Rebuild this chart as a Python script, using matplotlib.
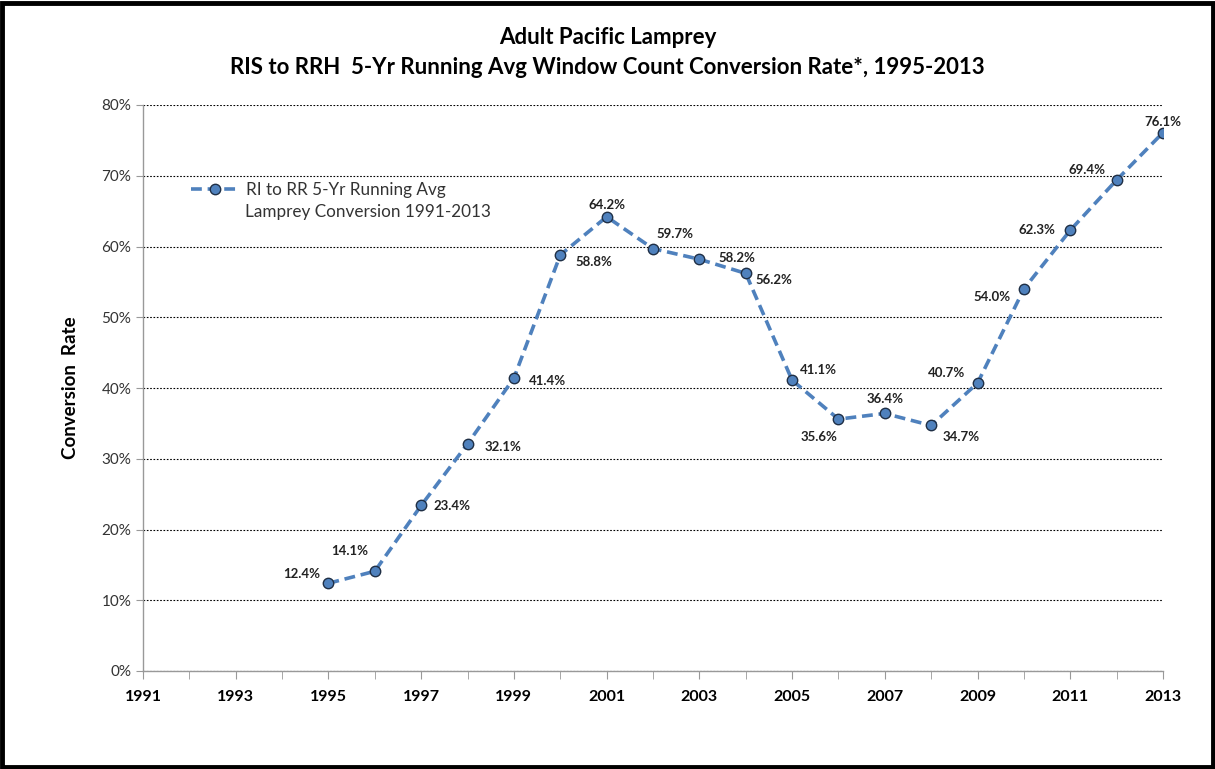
import matplotlib
matplotlib.use('Agg')
import matplotlib.pyplot as plt
from matplotlib.ticker import MultipleLocator, FixedLocator, FuncFormatter
from matplotlib.patches import Rectangle

plt.rcParams['font.family'] = ['Lato', 'DejaVu Sans']

# data
anos = [1995, 1996, 1997, 1998, 1999, 2000, 2001, 2002, 2003, 2004,
        2005, 2006, 2007, 2008, 2009, 2010, 2011, 2012, 2013]
taxa = [12.4, 14.1, 23.4, 32.1, 41.4, 58.8, 64.2, 59.7, 58.2, 56.2,
        41.1, 35.6, 36.4, 34.7, 40.7, 54.0, 62.3, 69.4, 76.1]
rotulos = [f'{v:.1f}%' for v in taxa]
anos_eixo = list(range(1991, 2014, 2))
legenda = ['RI to RR 5-Yr Running Avg', 'Lamprey Conversion 1991-2013']
# posicao dos rotulos em pixels (dx, dy)
desloc = [(-27, 9), (-25, 20), (31, -1), (35, -3), (34, -3), (34, -7),
          (0, 12), (22, 15), (38, 1), (28, -7), (26, 10), (-19, -18),
          (0, 14), (30, -12), (-31, 10), (-32, -8), (-33, 0), (-30, 10),
          (0, 11)]

fig = plt.figure(figsize=(12.15, 7.69), dpi=100)
ax = fig.add_axes([143/1215, 1 - 671/769, (1163 - 143)/1215, (671 - 105)/769])

azul = '#4F81BD'
ax.plot(anos, taxa, color=azul, linestyle=(0, (3, 1.6)), linewidth=2.6,
        marker='o', markersize=7.5, markerfacecolor=azul,
        markeredgecolor='#1f2f45', markeredgewidth=1.0,
        label=legenda[0])

for x, y, txt, (dx, dy) in zip(anos, taxa, rotulos, desloc):
    ax.annotate(txt, (x, y), xytext=(dx, dy), textcoords='offset pixels',
                ha='center', va='center', fontsize=9.5, fontweight='bold',
                color='#222222')

ax.set_xlim(1991, 2013)
ax.set_ylim(0, 80)
ax.xaxis.set_major_locator(FixedLocator(anos_eixo))
ax.xaxis.set_minor_locator(MultipleLocator(1))
ax.yaxis.set_major_locator(MultipleLocator(10))
ax.yaxis.set_major_formatter(FuncFormatter(lambda v, p: f'{v:.0f}%'))

ax.grid(axis='y', color='black', linestyle=(0, (1.5, 1.5)), linewidth=0.8)
ax.set_axisbelow(True)
for s in ['top', 'right']:
    ax.spines[s].set_visible(False)
for s in ['left', 'bottom']:
    ax.spines[s].set_color('#999999')
    ax.spines[s].set_linewidth(1.0)

ax.tick_params(axis='x', which='both', direction='out', length=6, color='#999999',
               labelsize=11.5, pad=8)
ax.tick_params(axis='y', which='major', direction='out', length=5, color='#999999',
               labelsize=11, labelcolor='#333333')
for lbl in ax.get_xticklabels():
    lbl.set_fontweight('bold')

ax.set_ylabel('Conversion  Rate', fontsize=13.5, fontweight='bold', labelpad=16)

ax.legend(loc='center left', bbox_to_anchor=(184/1215, 1 - 190/769),
          bbox_transform=fig.transFigure, borderaxespad=0, frameon=False,
          fontsize=12.3, handlelength=2.8, handletextpad=0.4,
          labelcolor='#333333')
fig.text(245/1215, 1 - 212/769, legenda[1], ha='left', va='center',
         fontsize=12.3, color='#333333')

fig.text(0.5, 1 - 38/769, 'Adult Pacific Lamprey', ha='center', va='center',
         fontsize=16, fontweight='bold')
fig.text(0.5, 1 - 68/769, 'RIS to RRH  5-Yr Running Avg Window Count Conversion Rate*, 1995-2013',
         ha='center', va='center', fontsize=16, fontweight='bold')

# moldura
fig.patches.append(Rectangle((0.002, 0.003), 0.996, 0.993, transform=fig.transFigure,
                             fill=False, edgecolor='black', linewidth=3.5))

fig.savefig('out.png', dpi=100)
